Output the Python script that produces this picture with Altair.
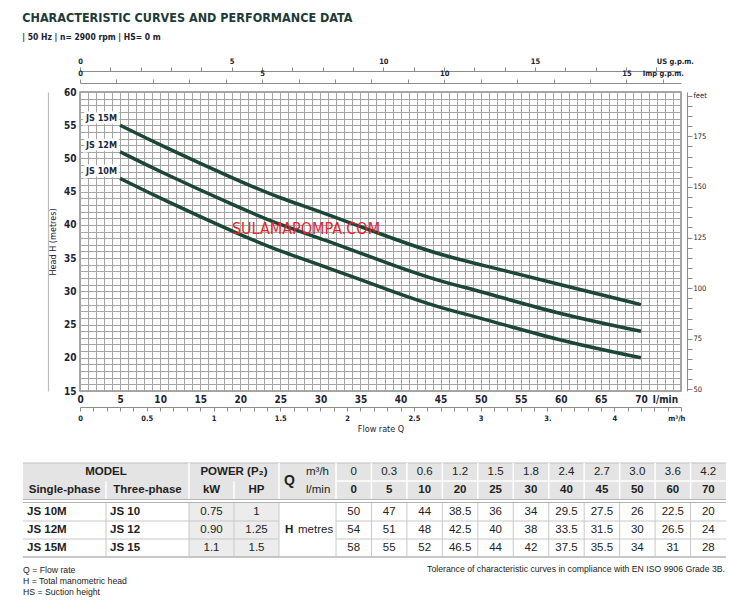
import altair as alt
import pandas as pd

# ---------------- data ----------------
q_lmin = [0, 5, 10, 20, 25, 30, 40, 45, 50, 60, 70]
q_m3h = ["0", "0.3", "0.6", "1.2", "1.5", "1.8", "2.4", "2.7", "3.0", "3.6", "4.2"]
h_js10m = [50, 47, 44, 38.5, 36, 34, 29.5, 27.5, 26, 22.5, 20]
h_js12m = [54, 51, 48, 42.5, 40, 38, 33.5, 31.5, 30, 26.5, 24]
h_js15m = [58, 55, 52, 46.5, 44, 42, 37.5, 35.5, 34, 31, 28]
models_single = ["JS 10M", "JS 12M", "JS 15M"]
models_three = ["JS 10", "JS 12", "JS 15"]
power_kw = ["0.75", "0.90", "1.1"]
power_hp = ["1", "1.25", "1.5"]
watermark_text = ["SULAMAPOMPA.COM"]
watermark_q = [28.2]
watermark_h = [39.4]
footnotes = ["Q = Flow rate", "H = Total manometric head", "HS = Suction height"]
tolerance_note = ["Tolerance of characteristic curves in compliance with EN ISO 9906 Grade 3B."]

# ---------------- constants / styles ----------------
LPM_PER_USGPM = 3.785411784
LPM_PER_IMPGPM = 4.54609
FT_PER_M = 3.28084
Q_MAX = 75
H_MIN, H_MAX = 15, 60
PLOT_W, PLOT_H = 601, 299

FN = "Liberation Sans Narrow, DejaVu Sans Condensed, sans-serif"
FT = "Liberation Sans, Arial, sans-serif"
TXT = "#1b2233"
GREEN = "#1c4737"
GRID = "#a4a4a4"
AXC = "#8c8c8c"

heads = [h_js10m, h_js12m, h_js15m]
rows = []
for name, hs in zip(models_single, heads):
    for q, h in zip(q_lmin[1:], hs[1:]):
        rows.append({"model": name, "q": q, "h": h})
curve_df = pd.DataFrame(rows)
label_df = pd.DataFrame({"model": models_single,
                         "q": [q_lmin[1]] * 3,
                         "h": [hs[1] for hs in heads]})
wm_df = pd.DataFrame({"t": watermark_text, "q": watermark_q, "h": watermark_h})

# helper table holding the same flow/head values in the other units
helper_df = pd.DataFrame({
    "q": q_lmin,
    "h": h_js15m,
    "m3h": [float(v) for v in q_m3h],
    "us": [q / LPM_PER_USGPM for q in q_lmin],
    "imp": [q / LPM_PER_IMPGPM for q in q_lmin],
    "ft": [h * FT_PER_M for h in h_js15m],
})


def xq(axis=None):
    return alt.X("q:Q", scale=alt.Scale(domain=[0, Q_MAX], nice=False, zero=False), axis=axis)


def yh(axis=None):
    return alt.Y("h:Q", scale=alt.Scale(domain=[H_MIN, H_MAX], nice=False, zero=False), axis=axis)


ax_lmin = alt.Axis(values=list(range(0, 76)), grid=True, gridColor=GRID, gridWidth=1,
                   ticks=False, domain=False,
                   labelExpr="datum.value == 73 ? 'l/min' : ((datum.value % 5 == 0 && datum.value <= 70) ? datum.label : '')",
                   labelFont=FN, labelFontSize=10, labelFontWeight="bold", labelColor=TXT,
                   labelPadding=3, labelOverlap=False, labelFlush=False, title=None)
ax_h = alt.Axis(values=list(range(15, 61)), grid=True, gridColor=GRID, gridWidth=1,
                ticks=False, domain=False,
                labelExpr="datum.value % 5 == 0 ? datum.label : ''",
                labelFont=FN, labelFontSize=10, labelFontWeight="bold", labelColor=TXT,
                labelPadding=4, labelOverlap=False, labelFlush=False,
                title="Head H (metres)", titleFont=FN, titleFontSize=9,
                titleFontWeight="normal", titleColor=TXT, titlePadding=6)

curves = alt.Chart(curve_df).mark_line(interpolate="basis", strokeWidth=3.5, color=GREEN).encode(
    x=xq(ax_lmin), y=yh(ax_h), detail="model:N")

label_halo = alt.Chart(label_df).mark_text(align="right", baseline="middle", dx=-3, dy=-7,
                                           font=FN, fontSize=9, fontWeight="bold",
                                           stroke="white", strokeWidth=5, color="white").encode(
    x=xq(), y=yh(), text="model:N")
labels = alt.Chart(label_df).mark_text(align="right", baseline="middle", dx=-3, dy=-7,
                                       font=FN, fontSize=9, fontWeight="bold", color="#1b2a44").encode(
    x=xq(), y=yh(), text="model:N")
wm = alt.Chart(wm_df).mark_text(align="center", baseline="middle", font=FN, fontSize=16,
                                color="#e6232b").encode(x=xq(), y=yh(), text="t:N")

m3h_layer = alt.Chart(helper_df).mark_point(opacity=0).encode(
    x=alt.X("m3h:Q", scale=alt.Scale(domain=[0, Q_MAX * 60 / 1000], nice=False, zero=False),
            axis=alt.Axis(orient="bottom", offset=16, values=[round(i * 0.1, 1) for i in range(46)],
                          grid=False, tickSize=4, tickColor=AXC, domainColor=AXC, format="~g",
                          labelExpr="abs(datum.value - 4.4) < 0.01 ? 'm³/h' : (abs(datum.value - 3.5) < 0.01 ? '3.' : (abs(datum.value * 2 - round(datum.value * 2)) < 0.01 && datum.value < 4.45 ? datum.label : ''))",
                          labelAlign={"condition": {"test": "abs(datum.value - 4.4) < 0.01", "value": "left"}, "value": "center"},
                          labelFont=FN, labelFontSize=7.5, labelFontWeight="bold", labelColor=TXT,
                          labelPadding=3, labelOverlap=False, labelFlush=False,
                          title="Flow rate Q", titleFont=FN, titleFontSize=9, titleFontWeight="normal",
                          titleColor=TXT, titlePadding=3)),
    y=yh())

us_layer = alt.Chart(helper_df).mark_point(opacity=0).encode(
    x=alt.X("us:Q", scale=alt.Scale(domain=[0, Q_MAX / LPM_PER_USGPM], nice=False, zero=False),
            axis=alt.Axis(orient="top", offset=21, values=list(range(0, 20)), grid=False,
                          tickSize=4, tickColor=AXC, domainColor=AXC,
                          labelExpr="datum.value == 19 ? 'US g.p.m.' : (datum.value % 5 == 0 ? datum.label : '')",
                          labelAlign={"condition": {"test": "datum.value == 19", "value": "left"}, "value": "center"},
                          labelFont=FN, labelFontSize=7.5, labelFontWeight="bold", labelColor=TXT,
                          labelPadding=2, labelOverlap=False, labelFlush=False, title=None)),
    y=yh())

imp_layer = alt.Chart(helper_df).mark_point(opacity=0).encode(
    x=alt.X("imp:Q", scale=alt.Scale(domain=[0, Q_MAX / LPM_PER_IMPGPM], nice=False, zero=False),
            axis=alt.Axis(orient="top", offset=9, values=list(range(0, 17)), grid=False,
                          tickSize=4, tickColor=AXC, domainColor=AXC,
                          labelExpr="datum.value == 16 ? 'Imp g.p.m.' : (datum.value % 5 == 0 ? datum.label : '')",
                          labelFont=FN, labelFontSize=7.5, labelFontWeight="bold", labelColor=TXT,
                          labelPadding=2, labelOverlap=False, labelFlush=False, title=None)),
    y=yh())

ft_layer = alt.Chart(helper_df).mark_point(opacity=0).encode(
    x=xq(),
    y=alt.Y("ft:Q", scale=alt.Scale(domain=[H_MIN * FT_PER_M, H_MAX * FT_PER_M], nice=False, zero=False),
            axis=alt.Axis(orient="right", offset=6, values=list(range(50, 200, 5)), grid=False,
                          tickSize=5, tickColor=AXC, domainColor=AXC,
                          labelExpr="datum.value == 195 ? 'feet' : (datum.value % 25 == 0 ? datum.label : '')",
                          labelFont=FN, labelFontSize=7.5, labelColor=TXT, labelPadding=1,
                          labelOverlap=False, labelFlush=False, title=None)))

edge_layer = alt.Chart(helper_df).mark_point(opacity=0).encode(
    x=xq(),
    y=yh(alt.Axis(orient="left", offset=32, grid=False, ticks=False, labels=False,
                  domainColor="#bdbdbd", domainWidth=1.2, title=None)))

plot = alt.layer(curves, label_halo, labels, wm, m3h_layer, us_layer, imp_layer, ft_layer, edge_layer).resolve_scale(
    x="independent", y="independent").properties(
    width=PLOT_W, height=PLOT_H, view=alt.ViewBackground(stroke="#8a8a8a", strokeWidth=1.5))

# ---------------- table (layout in page pixels) ----------------
T_L, T_R = 22, 725
C_SINGLE, C_THREE, C_KW, C_HP, C_Q, C_VAL = 22, 105, 188, 233, 278, 335
VAL_W = (T_R - C_VAL) / 11
val_edges = [C_VAL + VAL_W * i for i in range(12)]
val_cent = [C_VAL + VAL_W * (i + 0.5) for i in range(11)]
R_TOP, R_MID, R_HB, R_BT = 462, 480, 498, 502
body_edges = [502, 520, 538, 556]
body_cent = [511, 529, 547]
R1, R2 = 471, 489

rects = [
    {"x": T_L, "x2": T_R, "y": R_TOP, "y2": R_HB, "c": "#e4e4e4"},
    {"x": C_KW, "x2": C_Q, "y": R_BT, "y2": body_edges[-1], "c": "#ececec"},
]
rules = []
rules.append({"x": T_L, "x2": T_R, "y": R_TOP, "y2": R_TOP, "c": "#c2c2c2", "w": 1})
for xe in [C_KW, C_Q, C_VAL] + val_edges[1:-1]:
    rules.append({"x": xe, "x2": xe, "y": R_TOP, "y2": R_HB, "c": "#ffffff", "w": 1.5})
for xe in [C_THREE, C_HP]:
    rules.append({"x": xe, "x2": xe, "y": R_MID, "y2": R_HB, "c": "#ffffff", "w": 1.5})
rules.append({"x": C_VAL, "x2": T_R, "y": R_MID, "y2": R_MID, "c": "#ffffff", "w": 1.5})
rules.append({"x": T_L, "x2": T_R, "y": R_HB + 0.5, "y2": R_HB + 0.5, "c": "#b4b4b4", "w": 1.2})
rules.append({"x": T_L, "x2": T_R, "y": R_BT - 0.5, "y2": R_BT - 0.5, "c": "#b4b4b4", "w": 1.2})
for ye in body_edges[1:-1]:
    rules.append({"x": T_L, "x2": C_Q, "y": ye, "y2": ye, "c": "#c8c8c8", "w": 1})
    rules.append({"x": C_VAL, "x2": T_R, "y": ye, "y2": ye, "c": "#c8c8c8", "w": 1})
rules.append({"x": T_L, "x2": T_R, "y": body_edges[-1], "y2": body_edges[-1], "c": "#b4b4b4", "w": 1.5})
for xe in [C_THREE, C_KW, C_HP, C_Q, C_VAL] + val_edges[1:-1]:
    rules.append({"x": xe, "x2": xe, "y": R_BT, "y2": body_edges[-1], "c": "#c8c8c8", "w": 1})

cb, cn, lb, ln, big = [], [], [], [], []
cb.append({"x": (C_SINGLE + C_KW) / 2, "y": R1, "t": "MODEL"})
cb.append({"x": (C_KW + C_Q) / 2, "y": R1, "t": "POWER (P₂)"})
cb.append({"x": (C_SINGLE + C_THREE) / 2, "y": R2, "t": "Single-phase"})
cb.append({"x": (C_THREE + C_KW) / 2, "y": R2, "t": "Three-phase"})
cb.append({"x": (C_KW + C_HP) / 2, "y": R2, "t": "kW"})
cb.append({"x": (C_HP + C_Q) / 2, "y": R2, "t": "HP"})
big.append({"x": C_Q + 5, "y": R_MID, "t": "Q"})
ln.append({"x": C_Q + 27, "y": R1, "t": "m³/h"})
ln.append({"x": C_Q + 27, "y": R2, "t": "l/min"})
for xc, m, l in zip(val_cent, q_m3h, q_lmin):
    cn.append({"x": xc, "y": R1, "t": m})
    cb.append({"x": xc, "y": R2, "t": str(l)})
for yc, s, t3, kw, hp, hs in zip(body_cent, models_single, models_three, power_kw, power_hp, heads):
    lb.append({"x": C_SINGLE + 4, "y": yc, "t": s})
    lb.append({"x": C_THREE + 4, "y": yc, "t": t3})
    cn.append({"x": (C_KW + C_HP) / 2, "y": yc, "t": kw})
    cn.append({"x": (C_HP + C_Q) / 2, "y": yc, "t": hp})
    for xc, h in zip(val_cent, hs):
        cn.append({"x": xc, "y": yc, "t": f"{h:g}"})
lb.append({"x": C_Q + 6, "y": body_cent[1], "t": "H"})
ln.append({"x": C_Q + 19, "y": body_cent[1], "t": "metres"})

foot = [{"x": T_L, "y": 569 + 11 * i, "t": t} for i, t in enumerate(footnotes)]
tol = [{"x": T_R - 1, "y": 568, "t": t} for t in tolerance_note]

TXS = alt.Scale(domain=[79, 680], nice=False, zero=False)
TYS = alt.Scale(domain=[600, 440], nice=False, zero=False)


def tx(f="x"):
    return alt.X(f + ":Q", scale=TXS, axis=None)


def ty(f="y"):
    return alt.Y(f + ":Q", scale=TYS, axis=None)


t_rects = alt.Chart(pd.DataFrame(rects)).mark_rect().encode(
    x=tx(), x2="x2:Q", y=ty(), y2="y2:Q", fill=alt.Fill("c:N", scale=None))
t_rules = alt.Chart(pd.DataFrame(rules)).mark_rule().encode(
    x=tx(), x2="x2:Q", y=ty(), y2="y2:Q", color=alt.Color("c:N", scale=None),
    strokeWidth=alt.StrokeWidth("w:Q", scale=None))


def tlayer(data, align, weight, size, font=FT):
    return alt.Chart(pd.DataFrame(data)).mark_text(align=align, baseline="middle", fontWeight=weight,
                                                   fontSize=size, font=font, color="#222222").encode(
        x=tx(), y=ty(), text="t:N")


table = alt.layer(
    t_rects, t_rules,
    tlayer(cb, "center", "bold", 11.5),
    tlayer(cn, "center", "normal", 11.5),
    tlayer(lb, "left", "bold", 11.5),
    tlayer(ln, "left", "normal", 11.5),
    tlayer(big, "left", "bold", 14),
    tlayer(foot, "left", "normal", 8.7),
    tlayer(tol, "right", "normal", 8.7),
).properties(width=PLOT_W, height=160, view=alt.ViewBackground(stroke=None))

chart = alt.vconcat(plot, table, spacing=50, bounds="flush").properties(
    title=alt.TitleParams(text="CHARACTERISTIC CURVES AND PERFORMANCE DATA",
                          subtitle="| 50 Hz | n= 2900 rpm | HS= 0 m",
                          anchor="start", frame="bounds", font=FN, fontSize=12.5, fontWeight="bold",
                          color="#1d3b38", subtitleFont=FN, subtitleFontSize=8.5,
                          subtitleFontWeight="bold", subtitleColor=TXT, subtitlePadding=8, offset=15),
    padding={"left": 14, "top": 4, "right": 0, "bottom": 0},
    background="white",
).configure_view(stroke=None)

chart.save("out.html", embed_options={"renderer": "svg", "actions": False})
